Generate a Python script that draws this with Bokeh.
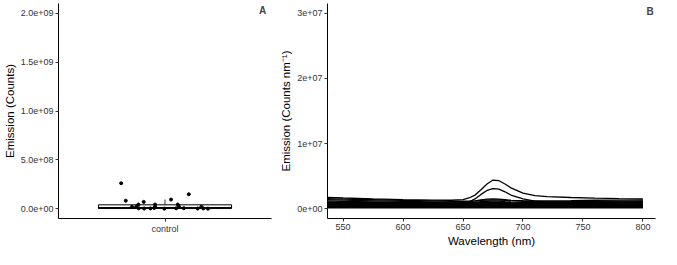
from bokeh.plotting import figure
from bokeh.layouts import row
from bokeh.models import Range1d, FixedTicker, Label, ColumnDataSource
from bokeh.embed import file_html
from bokeh.resources import INLINE

# ---------------- Panel A data (values in units of 1e6 counts) ----------------
category = ["control"]
jitter_offset = [-0.247, -0.221, -0.12, 0.034, 0.134, -0.15, -0.056, 0.072,
                 -0.186, -0.162, -0.056, 0.079, 0.205, -0.148, -0.118, -0.082,
                 -0.061, -0.004, 0.063, 0.106, 0.184, 0.216, 0.242]
emission_counts = [261, 82, 70, 94, 148, 43, 43, 43,
                   21, 21, 21, 21, 21, 5, 2, 3,
                   8, 1, 4, 6, 2, 3, 1]
box_q1 = 2
box_median = 10
box_q3 = 40
whisker_low = 0
whisker_high = 94
a_ticks = [0, 500, 1000, 1500, 2000]
a_tick_labels = ["0.0e+00", "5.0e+08", "1.0e+09", "1.5e+09", "2.0e+09"]

# ---------------- Panel B data (values in units of 1e6 counts/nm) ----------------
wavelength = [537, 550, 575, 600, 625, 640, 650, 655, 660, 665, 670, 675,
              680, 685, 690, 700, 710, 720, 740, 760, 780, 800]
spec_01 = [1.75, 1.65, 1.5, 1.4, 1.32, 1.3, 1.4, 1.65, 2.1, 2.9, 3.8, 4.4, 4.3, 3.8, 3.2, 2.4, 2.0, 1.85, 1.72, 1.62, 1.55, 1.5]
spec_02 = [0.95, 0.9, 0.85, 0.8, 0.78, 0.78, 0.85, 1.05, 1.5, 2.2, 2.8, 3.1, 3.0, 2.6, 2.1, 1.5, 1.15, 1.05, 1.0, 0.98, 0.97, 0.95]
spec_03 = [1.55, 1.48, 1.38, 1.28, 1.2, 1.15, 1.15, 1.18, 1.22, 1.28, 1.33, 1.35, 1.34, 1.3, 1.27, 1.23, 1.22, 1.22, 1.25, 1.3, 1.33, 1.35]
spec_04 = [1.4, 1.33, 1.22, 1.12, 1.05, 1.0, 1.02, 1.08, 1.2, 1.35, 1.48, 1.52, 1.48, 1.38, 1.28, 1.15, 1.1, 1.08, 1.1, 1.15, 1.18, 1.2]
spec_05 = [1.2, 1.14, 1.05, 0.98, 0.93, 0.9, 0.92, 0.95, 1.0, 1.08, 1.15, 1.18, 1.16, 1.1, 1.05, 0.98, 0.96, 0.96, 0.98, 1.02, 1.05, 1.08]
spec_06 = [1.05, 1.0, 0.95, 0.9, 0.86, 0.84, 0.85, 0.87, 0.9, 0.95, 1.0, 1.02, 1.0, 0.96, 0.93, 0.9, 0.89, 0.89, 0.9, 0.92, 0.93, 0.95]
spec_07 = [0.95, 0.92, 0.87, 0.82, 0.79, 0.77, 0.78, 0.8, 0.84, 0.88, 0.92, 0.94, 0.92, 0.89, 0.86, 0.83, 0.82, 0.82, 0.83, 0.84, 0.85, 0.86]
spec_08 = [0.85, 0.82, 0.78, 0.74, 0.71, 0.7, 0.7, 0.71, 0.73, 0.76, 0.78, 0.8, 0.79, 0.77, 0.75, 0.73, 0.72, 0.72, 0.73, 0.74, 0.75, 0.76]
spec_09 = [0.75, 0.72, 0.69, 0.66, 0.63, 0.62, 0.62, 0.63, 0.65, 0.67, 0.69, 0.7, 0.69, 0.68, 0.66, 0.64, 0.63, 0.63, 0.64, 0.65, 0.66, 0.67]
spec_10 = [0.65, 0.63, 0.6, 0.57, 0.55, 0.54, 0.54, 0.55, 0.56, 0.58, 0.59, 0.6, 0.6, 0.59, 0.57, 0.56, 0.55, 0.55, 0.56, 0.57, 0.57, 0.58]
spec_11 = [0.55, 0.53, 0.51, 0.49, 0.47, 0.46, 0.46, 0.47, 0.48, 0.49, 0.5, 0.51, 0.51, 0.5, 0.49, 0.48, 0.47, 0.47, 0.48, 0.48, 0.49, 0.49]
spec_12 = [0.45, 0.44, 0.42, 0.4, 0.39, 0.38, 0.38, 0.39, 0.39, 0.4, 0.41, 0.42, 0.42, 0.41, 0.4, 0.39, 0.39, 0.39, 0.39, 0.4, 0.4, 0.41]
spec_13 = [0.35, 0.34, 0.33, 0.32, 0.31, 0.3, 0.3, 0.3, 0.31, 0.31, 0.32, 0.33, 0.33, 0.32, 0.32, 0.31, 0.31, 0.31, 0.31, 0.31, 0.32, 0.32]
spec_14 = [0.25, 0.24, 0.23, 0.22, 0.22, 0.21, 0.21, 0.21, 0.22, 0.22, 0.23, 0.23, 0.23, 0.23, 0.22, 0.22, 0.22, 0.22, 0.22, 0.22, 0.22, 0.23]
spec_15 = [0.15, 0.15, 0.14, 0.14, 0.13, 0.13, 0.13, 0.13, 0.14, 0.14, 0.14, 0.15, 0.15, 0.14, 0.14, 0.14, 0.14, 0.14, 0.14, 0.14, 0.14, 0.15]
spectra = [spec_01, spec_02, spec_03, spec_04, spec_05, spec_06, spec_07, spec_08,
           spec_09, spec_10, spec_11, spec_12, spec_13, spec_14, spec_15]
b_ticks = [0, 10, 20, 30]
b_tick_labels = ["0e+00", "1e+07", "2e+07", "3e+07"]
x_ticks = [550, 600, 650, 700, 750, 800]

FONT = "Liberation Sans"
TICK_COLOR = "#333333"


def style(p):
    p.outline_line_color = None
    p.xgrid.grid_line_color = None
    p.ygrid.grid_line_color = None
    for ax in (p.xaxis[0], p.yaxis[0]):
        ax.axis_line_color = "black"
        ax.axis_line_width = 1
        ax.major_tick_out = 3
        ax.major_tick_in = 0
        ax.major_tick_line_color = "#333333"
        ax.minor_tick_line_color = None
        ax.major_label_text_font = FONT
        ax.major_label_text_font_size = "9px"
        ax.major_label_text_color = TICK_COLOR
        ax.major_label_standoff = 2
        ax.axis_label_text_font = FONT
        ax.axis_label_text_font_size = "11.5px"
        ax.axis_label_text_font_style = "normal"
        ax.axis_label_text_color = "black"
        ax.axis_label_standoff = 2


# ---------------- Panel A ----------------
H = 249
pA = figure(width=277, height=H, output_backend="svg", toolbar_location=None,
            x_range=Range1d(0.4, 1.6), y_range=Range1d(-100, 2100),
            min_border_left=50, min_border_right=6, min_border_top=3,
            min_border_bottom=30)
style(pA)
pA.xaxis[0].ticker = FixedTicker(ticks=[1])
pA.xaxis[0].major_label_overrides = {1: category[0]}
pA.yaxis[0].ticker = FixedTicker(ticks=a_ticks)
pA.yaxis[0].major_label_overrides = {t: l for t, l in zip(a_ticks, a_tick_labels)}
pA.yaxis[0].axis_label = "Emission (Counts)"

box_width = 0.75
pA.segment(x0=[1], y0=[box_q3], x1=[1], y1=[whisker_high], line_color="black", line_width=0.8)
pA.segment(x0=[1], y0=[box_q1], x1=[1], y1=[whisker_low], line_color="black", line_width=0.8)
pA.vbar(x=[1], width=box_width, bottom=[box_q1], top=[box_q3],
        fill_color="white", line_color="black", line_width=1)
pA.segment(x0=[1 - box_width / 2], y0=[box_median], x1=[1 + box_width / 2], y1=[box_median],
           line_color="black", line_width=1.5)
srcA = ColumnDataSource(dict(x=[1 + o for o in jitter_offset], y=emission_counts))
pA.scatter("x", "y", source=srcA, size=3, color="black")
pA.add_layout(Label(x=1.55, y=2030, text="A", text_font=FONT, text_font_size="10px",
                    text_font_style="bold", text_align="center", text_baseline="middle"))

# ---------------- Panel B ----------------
pB = figure(width=384, height=H, output_backend="svg", toolbar_location=None,
            x_range=Range1d(537, 810.5), y_range=Range1d(-1.5, 31.5),
            min_border_left=50, min_border_right=6, min_border_top=3,
            min_border_bottom=30)
style(pB)
pB.xaxis[0].ticker = FixedTicker(ticks=x_ticks)
pB.xaxis[0].axis_label = "Wavelength (nm)"
pB.yaxis[0].ticker = FixedTicker(ticks=b_ticks)
pB.yaxis[0].major_label_overrides = {t: l for t, l in zip(b_ticks, b_tick_labels)}
pB.yaxis[0].axis_label = "Emission (Counts nm\u207b\u00b9)"

for s in spectra:
    pB.line(wavelength, s, line_color="black", line_width=1.3)
pB.add_layout(Label(x=806, y=30.3, text="B", text_font=FONT, text_font_size="10px",
                    text_font_style="bold", text_align="center", text_baseline="middle"))

layout = row(pA, pB, spacing=0)
open("out.html", "w").write(file_html(layout, INLINE))
